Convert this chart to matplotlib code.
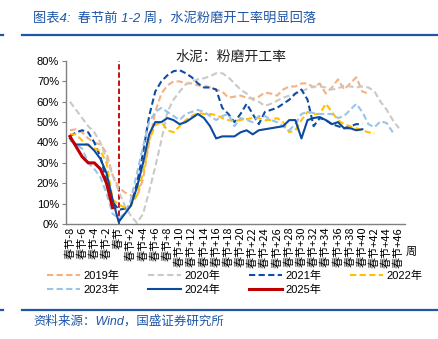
import numpy as np
import matplotlib.pyplot as plt
from matplotlib.lines import Line2D

plt.rcParams['font.family'] = ['Liberation Sans', 'Noto Sans CJK SC', 'DejaVu Sans']
plt.rcParams['axes.unicode_minus'] = False

# weeks relative to the Spring Festival
weeks = list(range(-8, 47))
tick_weeks = list(range(-8, 47, 2))
tick_labels = ['春节' if w == 0 else ('春节%+d' % w) for w in tick_weeks]

y2019 = [46, 46.5, 45, 42, 40, 39, 35, 24, 18, 15.5, 14, 13.5, 22, 40, 55, 64, 68, 70, 70, 69,
         69, 68, 68, 67, 66, 65, 62, 62.5, 63, 62, 61.5, 62.5, 64.5, 64, 63, 66, 67.5, 67.5, 69, 69,
         67, 69, 64, 67, 71, 66, 69, 72, 65, 64]
y2020 = [60, 56, 52, 48, 45, 40, 32, 24, 16, 9, 4, 0.5, 5, 16, 28, 41, 55, 61, 65, 68.5,
         70, 71, 71.5, 72.5, 74, 74, 72, 69, 66, 64, 61, 60, 58, 59, 60.5, 62, 63, 64, 65, 66.5,
         67.5, 67.5, 67, 66, 66.5, 68, 67.5, 67, 67.5, 67, 65, 60, 56, 51, 47]
y2021 = [43, 45, 46, 45, 40, 33, 21, 11, 7, 7.5, 9, 20, 35, 53, 65, 70, 73, 75, 75.5, 74,
         72, 69, 67, 67, 66, 57, 54, 50, 54, 59, 54, 49, 55, 56, 57, 59, 61, 64, 66, 61,
         48, 52, 51, 49, 48, 47, 48, 49, 49]
y2022 = [44, 44, 41, 38.5, 37, 36, 30, 12, 9.5, 8, 9, 14, 25, 41, 48.5, 50, 46, 45, 48, 51,
         53, 54.5, 54, 54, 53.5, 52, 51, 50.5, 51, 51.5, 52, 52, 51, 51, 52, 50, 45, 46, 51, 55,
         54, 54, 59, 55, 51, 49, 48, 47, 46, 45, 44.5]
y2023 = [41, 39, 37, 30, 27, 23, 15, 5, 3, 5, 12, 25, 38, 50, 55, 57, 55, 53, 51, 54,
         55, 56, 55, 53, 51, 53, 54, 48, 52, 51, 50, 53, 53, 51, 50, 48, 46, 49, 54, 55,
         54.5, 54, 54, 54, 52, 53, 56, 59, 55, 49, 47.5, 50.5, 49.5, 45]
y2024 = [42, 39, 39, 39, 36, 32, 25, 12, 1, 5, 9, 18, 30, 44, 50, 50, 52, 51, 49, 50,
         52, 54, 52, 48, 42, 43, 43, 43, 45, 46, 44, 46, 46.5, 47, 47.5, 48, 51, 51, 42, 51,
         52, 52.5, 51, 49, 50, 47, 47, 46, 46.5]
y2025 = [43, 38, 33, 30, 30, 27, 20, 8]

series = [
    ('2019年', y2019, '#F4B183', '--', 1.5),
    ('2020年', y2020, '#C9C9C9', '--', 1.5),
    ('2021年', y2021, '#0E4DA4', '--', 1.5),
    ('2022年', y2022, '#FFC000', '--', 1.5),
    ('2023年', y2023, '#9DC3E6', '--', 1.5),
    ('2024年', y2024, '#0B4A9E', '-', 1.5),
    ('2025年', y2025, '#C00000', '-', 2.2),
]

fig = plt.figure(figsize=(4.39, 3.39), dpi=100)
ax = fig.add_axes([66 / 439, 1 - 224 / 339, (405 - 66) / 439, (224 - 61) / 339])

ax.axvline(0, color='#C00000', linestyle='--', linewidth=1.3, dashes=(3, 1.5), zorder=1)

lines = {}
for name, vals, color, ls, lw in series:
    x = weeks[:len(vals)]
    line, = ax.plot(x, vals, color=color, linestyle=ls, linewidth=lw, label=name)
    if ls == '--':
        line.set_dashes((3, 1.6))
    lines[name] = line

ax.set_xlim(-8.65, 47)
ax.set_ylim(0, 80)
ax.set_yticks(range(0, 81, 10))
ax.set_yticklabels(['%d%%' % v for v in range(0, 81, 10)], fontsize=8)
ax.set_xticks(tick_weeks)
ax.set_xticklabels(tick_labels, rotation=90, fontsize=8,
                   family=['Noto Sans CJK SC', 'DejaVu Sans'])
ax.tick_params(axis='x', length=0, pad=2)
ax.tick_params(axis='y', length=3, width=0.8, color='#808080', pad=2)
for s in ['top', 'right']:
    ax.spines[s].set_visible(False)
for s in ['left', 'bottom']:
    ax.spines[s].set_color('#808080')
    ax.spines[s].set_linewidth(1.0)

fig.text(231 / 439, 1 - 57 / 339, '水泥：粉磨开工率', ha='center', va='center', fontsize=10,
         family=['Noto Sans CJK SC'], color='#222222')
fig.text(411 / 439, 1 - 252 / 339, '周', ha='center', va='center', fontsize=8,
         family=['Noto Sans CJK SC'])

# column-wise fill: row 1 = 2019..2022, row 2 = 2023..2025
order = ['2019年', '2023年', '2020年', '2024年', '2021年', '2025年', '2022年']
fig.legend(handles=[lines[k] for k in order], loc='upper left',
           bbox_to_anchor=(47 / 439, 1 - 271 / 339),
           ncol=4, frameon=False, handlelength=3.0, handletextpad=0.3,
           columnspacing=2.55, labelspacing=0.25, borderpad=0, borderaxespad=0,
           prop={'family': ['Liberation Sans', 'Noto Sans CJK SC'], 'size': 8})

blue = '#1F56A8'
fig.text(33 / 439, 1 - 19 / 339, '图表4:  春节前 1-2 周，水泥粉磨开工率明显回落', ha='left', va='center',
         fontsize=9.5, color=blue, style='italic',
         family=['Liberation Sans', 'Noto Sans CJK SC'])
fig.text(33 / 439, 1 - 321 / 339, '资料来源：Wind，国盛证券研究所', ha='left', va='center',
         fontsize=9, color=blue, style='italic',
         family=['Liberation Sans', 'Noto Sans CJK SC'])
for yy in [35, 310]:
    yf = 1 - yy / 339
    fig.add_artist(Line2D([22 / 439, 437 / 439], [yf, yf], color=blue, linewidth=1.6))
    fig.add_artist(Line2D([0, 3 / 439], [yf, yf], color=blue, linewidth=1.6))

fig.savefig('out.png', dpi=100)
